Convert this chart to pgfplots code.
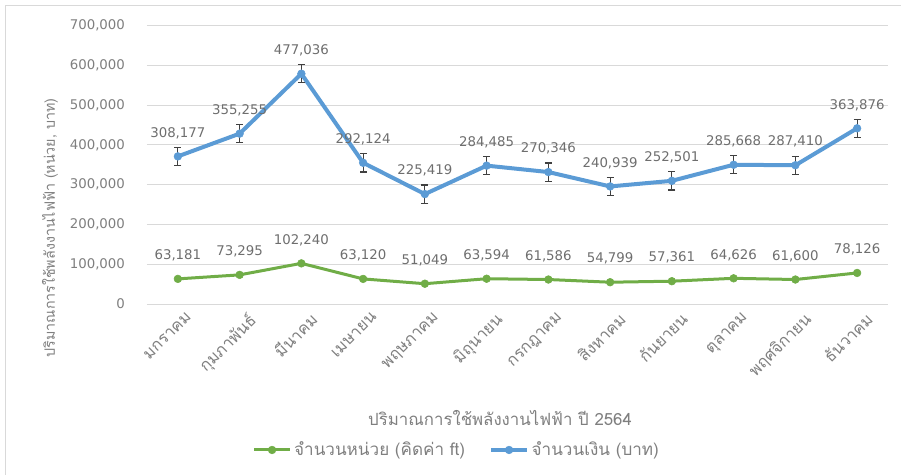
\documentclass[border=0pt]{standalone}
\usepackage{fontspec}
\usepackage{pgfplots}
\usepackage{pgfplotstable}
\pgfplotsset{compat=1.18}
\setmainfont{DejaVu Sans}
\newfontfamily\thaifont[Script=Thai]{Loma}
\definecolor{cblue}{HTML}{5B9BD5}
\definecolor{cgreen}{HTML}{70AD47}
\definecolor{gridgray}{HTML}{D9D9D9}
\definecolor{txtgray}{HTML}{7F7F7F}
\definecolor{labgray}{HTML}{6E6E6E}
\definecolor{errgray}{HTML}{404040}

% green: units (bottom series); blue: money stacked on top of units
\pgfplotstableread{
x y lab
0 63181 63,181
1 73295 73,295
2 102240 102,240
3 63120 63,120
4 51049 51,049
5 63594 63,594
6 61586 61,586
7 54799 54,799
8 57361 57,361
9 64626 64,626
10 61600 61,600
11 78126 78,126
}\units
\pgfplotstableread{
x y lab
0 371358 308,177
1 428550 355,255
2 579276 477,036
3 355244 292,124
4 276468 225,419
5 348079 284,485
6 331932 270,346
7 295738 240,939
8 309862 252,501
9 350294 285,668
10 349010 287,410
11 442002 363,876
}\money

\begin{document}
\begin{tikzpicture}
\begin{axis}[
  scale only axis, width=555.75pt, height=208.7pt,
  xmin=-0.5, xmax=11.5, ymin=0, ymax=700000,
  ytick={0,100000,200000,300000,400000,500000,600000,700000},
  xtick={0,...,11},
  xticklabels={มกราคม,กุมภาพันธ์,มีนาคม,เมษายน,พฤษภาคม,มิถุนายน,กรกฎาคม,สิงหาคม,กันยายน,ตุลาคม,พฤศจิกายน,ธันวาคม},
  axis line style={draw=none}, major tick length=0pt,
  ymajorgrids, grid style={draw=gridgray, line width=0.75pt},
  scaled y ticks=false,
  /pgf/number format/fixed,
  /pgf/number format/1000 sep={,},
  /pgf/number format/assume math mode=true,
  yticklabel style={font=\fontsize{10}{12}\selectfont, text=txtgray, xshift=-13pt},
  xticklabel style={font=\thaifont\fontsize{12.2}{14}\selectfont, text=txtgray, rotate=45, anchor=north east, xshift=3.5pt, yshift=-4.5pt},
  ylabel={\thaifont ปริมาณการใช้พลังงานไฟฟ้า (หน่วย, บาท)},
  ylabel style={font=\fontsize{10.7}{12}\selectfont, text=txtgray, at={(axis description cs:-0.131,0.273)}, anchor=center},
  legend style={at={(axis description cs:0.4184,-0.5246)}, anchor=center, draw=none, fill=none,
    legend columns=2, font=\thaifont\fontsize{12.8}{14}\selectfont, text=txtgray,
    /tikz/every even column/.append style={column sep=16pt}},
  legend cell align=left,
  legend image code/.code={\draw[mark repeat=2,mark phase=2,#1] plot coordinates {(0pt,0pt)(13.5pt,0pt)(27pt,0pt)};},
  clip=false,
  nodes near coords={\pgfplotspointmeta},
  every node near coord/.append style={anchor=center, yshift=17.6pt, font=\fontsize{10}{12}\selectfont, text=labgray},
]
\addplot[cgreen, line width=2.25pt, mark=*, mark size=2.9pt, mark options={fill=cgreen, draw=cgreen, line width=0.4pt},
  point meta=explicit symbolic] table[x=x, y=y, meta=lab] {\units};
\addlegendentry{จำนวนหน่วย (คิดค่า ft)}
\addplot[cblue, line width=3pt, mark=*, mark size=2.9pt, mark options={fill=cblue, draw=cblue, line width=0.4pt},
  point meta=explicit symbolic,
  error bars/.cd, y dir=both, y fixed=23000,
  error bar style={draw=errgray, line width=0.9pt},
  error mark options={draw=errgray, line width=0.9pt, mark size=2.6pt, rotate=90}] table[x=x, y=y, meta=lab] {\money};
\addlegendentry{จำนวนเงิน (บาท)}
\node[font=\thaifont\fontsize{12.6}{14}\selectfont, text=txtgray, anchor=center] at (axis description cs:0.4764,-0.4096) {ปริมาณการใช้พลังงานไฟฟ้า ปี 2564};
\end{axis}
\draw[gridgray, line width=0.75pt] (-106.1pt,-128.25pt) -- (-106.1pt,223.9pt) -- (565.5pt,223.9pt);
\pgfresetboundingbox
\useasboundingbox (-110.25pt,-128.25pt) rectangle (565.5pt,228pt);
\end{tikzpicture}
\end{document}
